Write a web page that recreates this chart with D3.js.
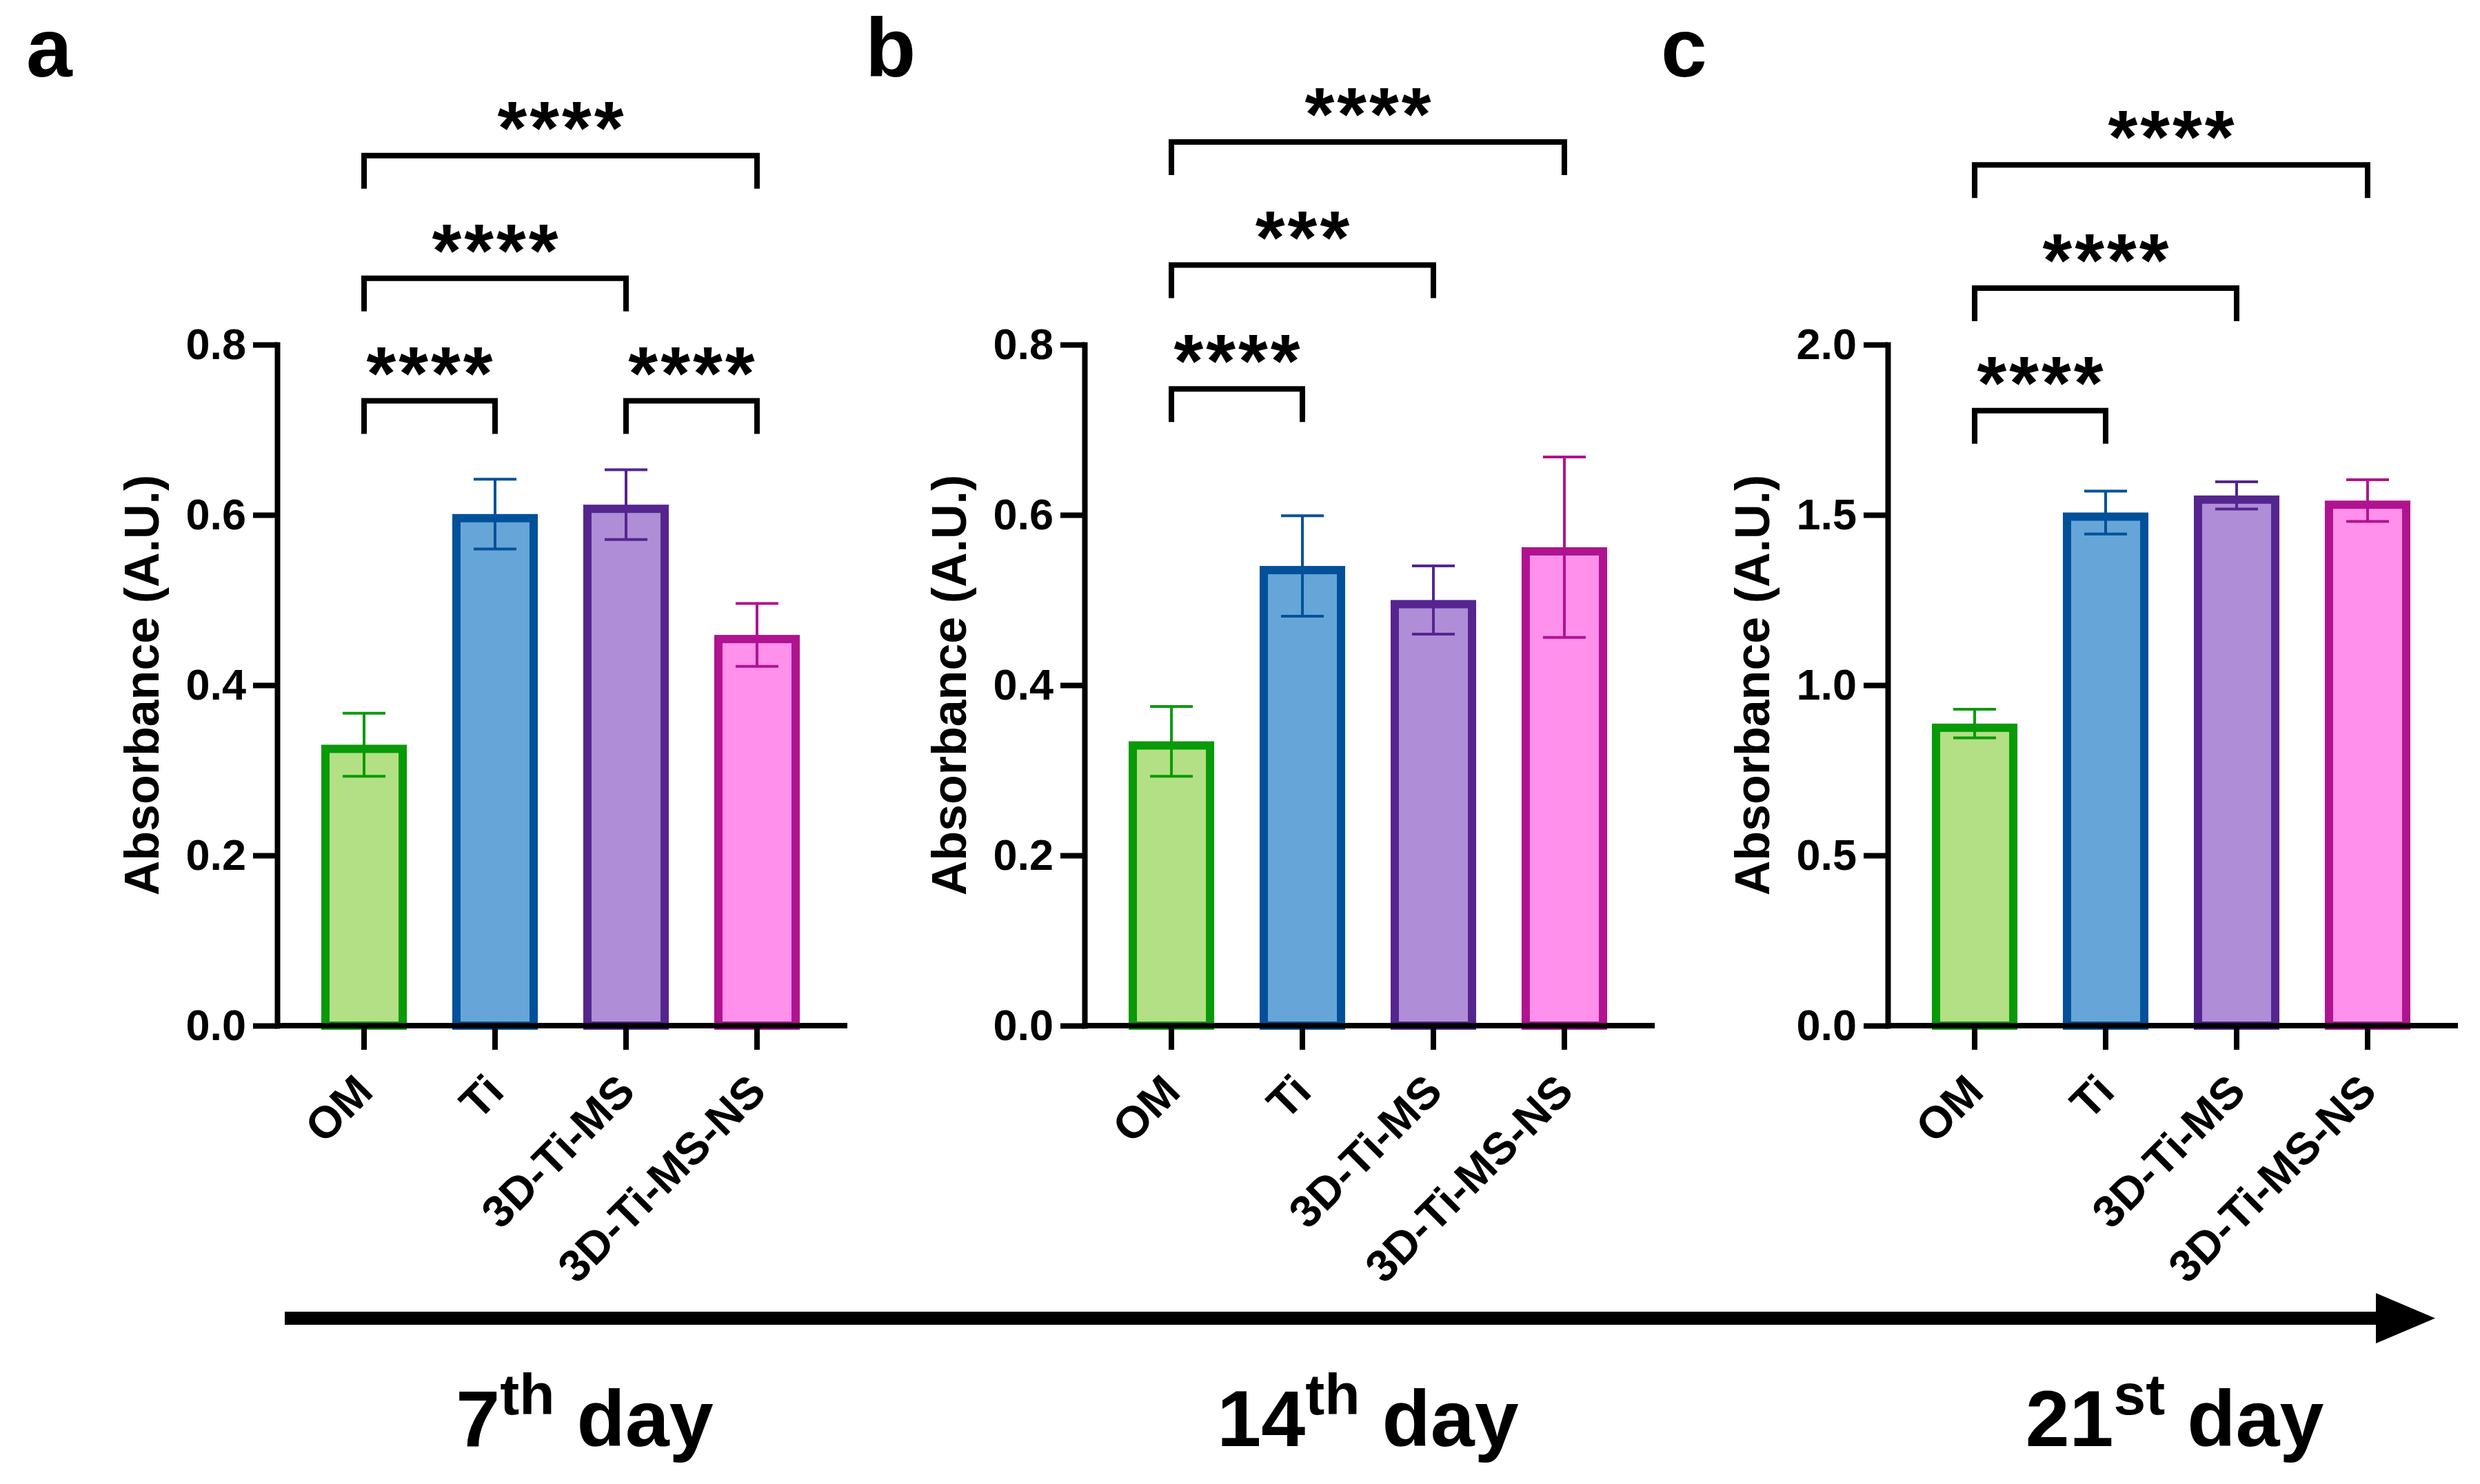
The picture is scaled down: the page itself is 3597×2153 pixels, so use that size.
<!DOCTYPE html>
<html>
<head>
<meta charset="utf-8">
<script src="https://cdn.jsdelivr.net/npm/d3@7"></script>
<style>
  html, body { margin: 0; padding: 0; background: #ffffff; }
  svg { display: block; }
  text { font-family: "Liberation Sans", Arial, sans-serif; font-weight: bold; fill: #000; }
</style>
</head>
<body>
<svg id="chart" width="3597" height="2153"></svg>
<script>
// ---------------- DATA ----------------
const categories = ["OM", "Ti", "3D-Ti-MS", "3D-Ti-MS-NS"];

const meansDay7  = [0.330, 0.601, 0.612, 0.459];
const errDay7    = [0.037, 0.041, 0.041, 0.037];
const meansDay14 = [0.334, 0.540, 0.500, 0.562];
const errDay14   = [0.041, 0.059, 0.040, 0.106];
const meansDay21 = [0.887, 1.507, 1.557, 1.542];
const errDay21   = [0.042, 0.063, 0.040, 0.061];

const ticksDay7  = [0, 0.2, 0.4, 0.6, 0.8];
const ticksDay14 = [0, 0.2, 0.4, 0.6, 0.8];
const ticksDay21 = [0, 0.5, 1.0, 1.5, 2.0];

// significance brackets: [from index, to index, level (axis units), label]
const sigDay7  = [[0, 1, 0.734, "****"], [2, 3, 0.734, "****"], [0, 2, 0.878, "****"], [0, 3, 1.022, "****"]];
const sigDay14 = [[0, 1, 0.748, "****"], [0, 2, 0.8935, "***"], [0, 3, 1.038, "****"]];
const sigDay21 = [[0, 1, 1.806, "****"], [0, 2, 2.166, "****"], [0, 3, 2.528, "****"]];

const fillColors   = ["#B3E084", "#66A5D8", "#AF8DD7", "#FF90EC"];
const strokeColors = ["#089A08", "#00519A", "#55258F", "#B0138E"];

const panelLetters = ["a", "b", "c"];
const dayNumbers   = ["7", "14", "21"];
const daySuffixes  = ["th", "th", "st"];
const yTitle = "Absorbance (A.U.)";

// ---------------- LAYOUT ----------------
const svg = d3.select("#chart");
const Y0 = 1488, YTOP = 500;
const AXW = 827;
const SW = 12; // bar outline width (drawn inside the bar)
const panels = [
  { ax: 402,  means: meansDay7,  errs: errDay7,  ticks: ticksDay7,  sig: sigDay7,  letterX: 38 },
  { ax: 1573, means: meansDay14, errs: errDay14, ticks: ticksDay14, sig: sigDay14, letterX: 1255 },
  { ax: 2738, means: meansDay21, errs: errDay21, ticks: ticksDay21, sig: sigDay21, letterX: 2409 }
];

panels.forEach((p, pi) => {
  const g = svg.append("g");
  const ymax = p.ticks[p.ticks.length - 1];
  const y = d3.scaleLinear().domain([0, ymax]).range([Y0, YTOP]);
  const x = d3.scaleBand().domain(categories)
    .range([p.ax, p.ax + 822]).paddingInner(0.347).paddingOuter(0.337);

  const rows = categories.map((c, i) => ({ c, i, m: p.means[i], e: p.errs[i] }));

  // bars (outline drawn inside the bar extent)
  g.selectAll("rect.bar").data(rows).join("rect")
    .attr("class", "bar")
    .attr("x", d => x(d.c) + SW / 2)
    .attr("y", d => y(d.m) + SW / 2)
    .attr("width", x.bandwidth() - SW)
    .attr("height", d => Y0 - y(d.m) - SW / 2)
    .attr("fill", d => fillColors[d.i])
    .attr("stroke", d => strokeColors[d.i])
    .attr("stroke-width", SW);

  // error bars
  const cx = d => x(d.c) + x.bandwidth() / 2;
  const eb = g.selectAll("g.err").data(rows).join("g").attr("class", "err")
    .attr("stroke", d => strokeColors[d.i]).attr("stroke-width", 4);
  eb.append("line").attr("x1", cx).attr("x2", cx)
    .attr("y1", d => y(d.m - d.e)).attr("y2", d => y(d.m + d.e));
  eb.append("line").attr("x1", d => cx(d) - 31).attr("x2", d => cx(d) + 31)
    .attr("y1", d => y(d.m + d.e)).attr("y2", d => y(d.m + d.e));
  eb.append("line").attr("x1", d => cx(d) - 31).attr("x2", d => cx(d) + 31)
    .attr("y1", d => y(d.m - d.e)).attr("y2", d => y(d.m - d.e));

  // y axis
  const yAxis = g.append("g").attr("transform", `translate(${p.ax},0)`)
    .call(d3.axisLeft(y).tickValues(p.ticks).tickSize(35).tickSizeOuter(0)
      .tickPadding(10).tickFormat(d3.format(".1f")));
  yAxis.select(".domain").attr("stroke", "#000").attr("stroke-width", 8).attr("stroke-linecap", "square");
  yAxis.selectAll(".tick line").attr("stroke", "#000").attr("stroke-width", 8);
  yAxis.selectAll(".tick text").attr("font-size", 63)
    .style("font-family", "'Liberation Sans', Arial, sans-serif").style("font-weight", "bold");

  // x axis
  const xAxis = g.append("g").attr("transform", `translate(0,${Y0})`)
    .call(d3.axisBottom(x).tickSize(35).tickSizeOuter(0).tickPadding(0));
  xAxis.select(".domain").remove();
  xAxis.append("line").attr("x1", p.ax).attr("x2", p.ax + AXW)
    .attr("y1", 0).attr("y2", 0).attr("stroke", "#000").attr("stroke-width", 8);
  xAxis.selectAll(".tick line").attr("stroke", "#000").attr("stroke-width", 8);
  xAxis.selectAll(".tick text")
    .attr("x", 0).attr("y", 0).attr("dy", "0.35em")
    .attr("text-anchor", "end")
    .attr("transform", "translate(0,83) rotate(-45)")
    .attr("font-size", 65)
    .style("font-family", "'Liberation Sans', Arial, sans-serif").style("font-weight", "bold");

  // y title
  g.append("text")
    .attr("transform", `translate(${p.ax - 172},${(Y0 + YTOP) / 2}) rotate(-90)`)
    .attr("text-anchor", "middle")
    .attr("font-size", 70)
    .text(yTitle);

  // significance brackets
  const sig = g.selectAll("g.sig").data(p.sig).join("g").attr("class", "sig");
  const bx = i => x(categories[i]) + x.bandwidth() / 2;
  sig.append("path")
    .attr("d", d => `M${bx(d[0])},${y(d[2]) + 48}V${y(d[2])}H${bx(d[1])}V${y(d[2]) + 48}`)
    .attr("fill", "none").attr("stroke", "#000").attr("stroke-width", 8)
    .attr("stroke-linejoin", "miter");
  sig.append("text")
    .attr("x", d => (bx(d[0]) + bx(d[1])) / 2 + 2)
    .attr("y", d => y(d[2]) - 3)
    .attr("text-anchor", "middle")
    .attr("font-size", 110)
    .attr("letter-spacing", 4)
    .text(d => d[3]);

  // panel letter
  svg.append("text").attr("x", p.letterX).attr("y", 111)
    .attr("font-size", 120).text(panelLetters[pi]);
});

// time arrow
svg.append("path")
  .attr("d", "M413,1903H3446V1876L3532,1912.5L3446,1949V1922H413Z")
  .attr("fill", "#000");

// day labels
const dayCenters = [848, 1984, 3154];
dayNumbers.forEach((n, i) => {
  const t = svg.append("text").attr("x", dayCenters[i]).attr("y", 2098)
    .attr("text-anchor", "middle").attr("font-size", 115);
  t.append("tspan").text(n);
  t.append("tspan").attr("dy", -46).attr("font-size", 84).text(daySuffixes[i]);
  t.append("tspan").attr("dy", 46).text(" day");
});
</script>
</body>
</html>
